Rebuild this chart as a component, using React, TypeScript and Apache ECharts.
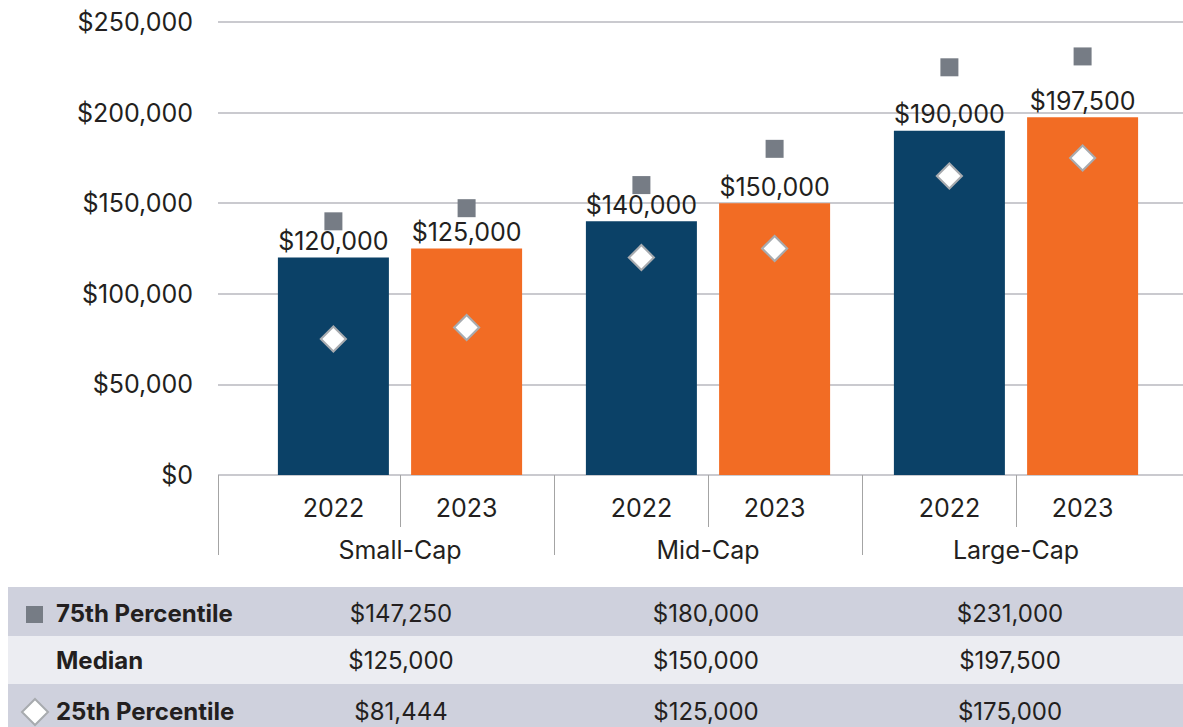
import React, { useEffect, useRef } from "react";
import * as echarts from "echarts";

const groups = ["Small-Cap", "Mid-Cap", "Large-Cap"];
const years = ["2022", "2023"];
const median2022 = [120000, 140000, 190000];
const median2023 = [125000, 150000, 197500];
const p75_2022 = [140000, 160000, 225000];
const p75_2023 = [147250, 180000, 231000];
const p25_2022 = [75000, 120000, 165000];
const p25_2023 = [81444, 125000, 175000];
const yMin = 0;
const yMax = 250000;
const yInterval = 50000;
const tableRows = ["75th Percentile", "Median", "25th Percentile"];
const tableValues = [p75_2023, median2023, p25_2023];

const NAVY = "#0b4167";
const ORANGE = "#f26c24";
const SQUARE = "#767c85";
const DIAMOND_BORDER = "#a8abaf";
const GRID = "#b9b9bf";
const SEP = "#a4a4a4";
const TEXT = "#231f20";
const FONT = "Inter, 'Noto Sans', sans-serif";

const fmt = (v: number) => "$" + v.toLocaleString("en-US");

export default function App() {
  const ref = useRef<HTMLDivElement>(null);
  useEffect(() => {
    if (!ref.current) return;
    const chart = echarts.init(ref.current, null, { renderer: "svg" });
    const barW = 111;
    const gap = "20%";
    const common = { barWidth: barW, barGap: gap, yAxisIndex: 1 };

    const colX = [401, 706, 1010];
    const rowY = [587, 636, 684];
    const rowH = [49, 48, 43];
    const rowFill = ["#cfd1dd", "#ecedf2", "#cfd1dd"];
    const graphic: any[] = [];
    rowY.forEach((y, i) => {
      graphic.push({
        type: "rect",
        shape: { x: 8, y, width: 1175, height: rowH[i] },
        style: { fill: rowFill[i] },
        silent: true,
      });
    });
    const rowCenters = [613, 660, 711];
    tableRows.forEach((name, i) => {
      graphic.push({
        type: "text",
        style: {
          text: name,
          x: 56,
          y: rowCenters[i],
          fill: TEXT,
          font: `700 24px ${FONT}`,
          textAlign: "left",
          textVerticalAlign: "middle",
          align: "left",
          verticalAlign: "middle",
        },
      });
      tableValues[i].forEach((v, j) => {
        graphic.push({
          type: "text",
          style: {
            text: fmt(v),
            x: colX[j],
            y: rowCenters[i],
            fill: TEXT,
            font: `400 24px ${FONT}`,
            textAlign: "center",
            textVerticalAlign: "middle",
            align: "center",
            verticalAlign: "middle",
          },
        });
      });
    });
    graphic.push({
      type: "rect",
      shape: { x: 26, y: 606, width: 17, height: 17 },
      style: { fill: SQUARE },
    });
    graphic.push({
      type: "polygon",
      shape: {
        points: [
          [35, 699],
          [48, 712],
          [35, 725],
          [22, 712],
        ],
      },
      style: { fill: "#ffffff", stroke: DIAMOND_BORDER, lineWidth: 2 },
    });

    const hiddenCat = () => ({
      type: "category",
      gridIndex: 1,
      data: groups,
      show: false,
    });

    const sepItem = (params: any, api: any) => {
      const c = api.coord([api.value(0), 0]);
      const bw = api.size([1, 0])[0];
      const x = Math.round(c[0] - bw / 2) + 0.5;
      return {
        type: "line",
        shape: { x1: x, y1: c[1], x2: x, y2: c[1] + 80 },
        style: { stroke: SEP, lineWidth: 1 },
      };
    };

    chart.setOption({
      animation: false,
      textStyle: { fontFamily: FONT },
      grid: [
        { left: 218, right: 0, top: 22, bottom: 252, containLabel: false },
        { left: 246, right: 13, top: 22, bottom: 252, containLabel: false },
      ],
      xAxis: [
        { type: "category", gridIndex: 0, data: ["all"], show: false },
        {
          type: "category",
          gridIndex: 1,
          data: groups,
          axisLine: { show: false },
          axisTick: {
            show: true,
            alignWithLabel: true,
            length: 52,
            lineStyle: { color: SEP, width: 1 },
          },
          axisLabel: {
            show: true,
            margin: 62,
            color: TEXT,
            fontSize: 25,
            fontFamily: FONT,
          },
        },
        hiddenCat(),
        hiddenCat(),
        hiddenCat(),
        hiddenCat(),
      ],
      yAxis: [
        {
          type: "value",
          gridIndex: 0,
          min: yMin,
          max: yMax,
          interval: yInterval,
          axisLine: { show: false },
          axisTick: { show: false },
          axisLabel: {
            formatter: (v: number) => fmt(v),
            color: TEXT,
            fontSize: 25,
            fontFamily: FONT,
            margin: 25,
          },
          splitLine: { show: true, lineStyle: { color: GRID, width: 1.5 } },
        },
        {
          type: "value",
          gridIndex: 1,
          min: yMin,
          max: yMax,
          interval: yInterval,
          show: false,
          splitLine: { show: false },
        },
      ],
      graphic,
      series: [
        {
          name: years[0],
          type: "bar",
          xAxisIndex: 1,
          ...common,
          data: median2022,
          itemStyle: { color: NAVY },
          label: {
            show: true,
            position: "top",
            distance: 4,
            formatter: (p: any) => fmt(p.value),
            color: TEXT,
            fontSize: 25,
            fontFamily: FONT,
          },
        },
        {
          name: years[1],
          type: "bar",
          xAxisIndex: 1,
          ...common,
          data: median2023,
          itemStyle: { color: ORANGE },
          label: {
            show: true,
            position: "top",
            distance: 4,
            formatter: (p: any) => fmt(p.value),
            color: TEXT,
            fontSize: 25,
            fontFamily: FONT,
          },
        },
        ...years.map((yr) => ({
          name: "year-" + yr,
          type: "bar",
          xAxisIndex: 2,
          ...common,
          silent: true,
          data: groups.map(() => 0),
          itemStyle: { color: "rgba(0,0,0,0)" },
          label: {
            show: true,
            position: "bottom",
            distance: 20,
            formatter: () => yr,
            color: TEXT,
            fontSize: 25,
            fontFamily: FONT,
          },
        })),
        ...[p75_2022, p75_2023].map((d, i) => ({
          name: "75th Percentile " + years[i],
          type: "pictorialBar",
          xAxisIndex: 3,
          ...common,
          z: 5,
          symbol: "rect",
          symbolSize: [18, 18],
          symbolPosition: "end",
          symbolOffset: [0, "-50%"],
          data: d,
          itemStyle: { color: SQUARE },
        })),
        ...[p25_2022, p25_2023].map((d, i) => ({
          name: "25th Percentile border " + years[i],
          type: "pictorialBar",
          xAxisIndex: 4,
          ...common,
          z: 5,
          symbol: "diamond",
          symbolSize: [28, 28],
          symbolPosition: "end",
          symbolOffset: [0, "-50%"],
          data: d,
          itemStyle: { color: DIAMOND_BORDER },
        })),
        ...[p25_2022, p25_2023].map((d, i) => ({
          name: "25th Percentile " + years[i],
          type: "pictorialBar",
          xAxisIndex: 5,
          ...common,
          z: 6,
          symbol: "diamond",
          symbolSize: [22, 22],
          symbolPosition: "end",
          symbolOffset: [0, "-50%"],
          data: d,
          itemStyle: { color: "#ffffff" },
        })),
        {
          name: "group-sep",
          type: "custom",
          xAxisIndex: 1,
          yAxisIndex: 1,
          silent: true,
          data: [
            [1, 0],
            [2, 0],
          ],
          encode: { x: 0, y: 1 },
          renderItem: sepItem,
        },
        {
          name: "left-sep",
          type: "custom",
          xAxisIndex: 0,
          yAxisIndex: 0,
          silent: true,
          data: [[0, 0]],
          encode: { x: 0, y: 1 },
          renderItem: sepItem,
        },
      ],
    });
    return () => chart.dispose();
  }, []);
  return (
    <div
      ref={ref}
      style={{
        position: "fixed",
        left: 0,
        top: 0,
        width: 1183,
        height: 727,
        background: "#ffffff",
      }}
    />
  );
}
